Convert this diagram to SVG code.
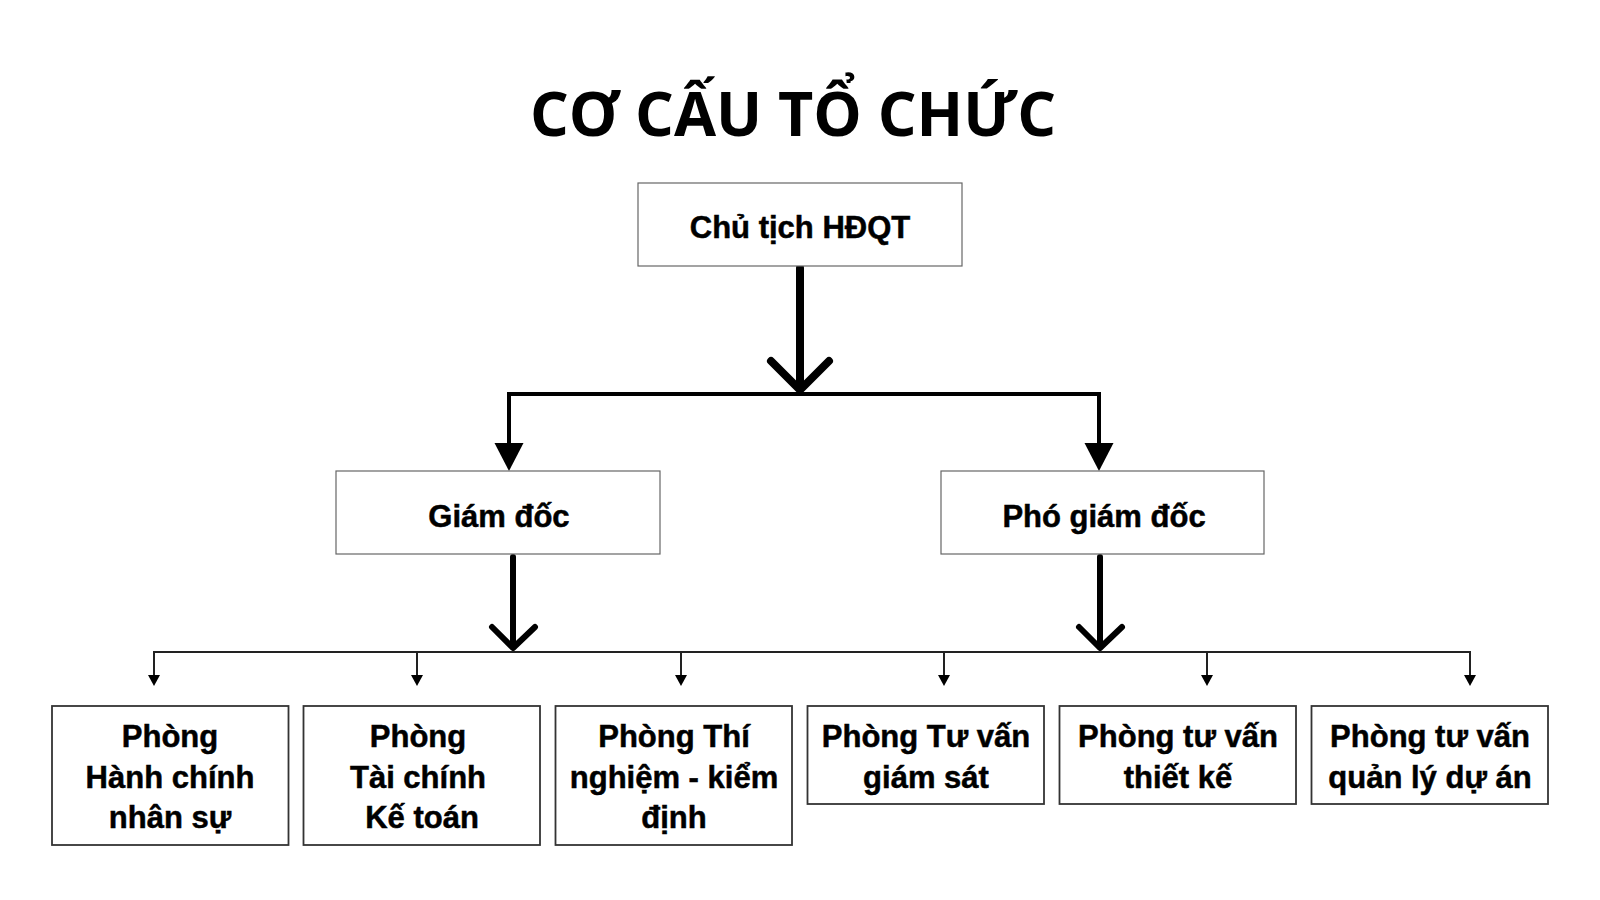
<svg xmlns="http://www.w3.org/2000/svg" width="1600" height="900" viewBox="0 0 1600 900">
  <style>
    .title { font-family: "Open Sans", "Liberation Sans", sans-serif; font-weight: 700; font-size: 61px; fill: #000; }
    .lbl { font-family: "Liberation Sans", Arial, sans-serif; font-weight: 700; font-size: 31px; fill: #000; stroke: #000; stroke-width: 0.5; text-anchor: middle; }
    .top { fill: #fff; stroke: #666; stroke-width: 1.2; }
    .dept { fill: #fff; stroke: #333; stroke-width: 1.8; }
    .big { fill: none; stroke: #000; stroke-width: 8; stroke-linecap: round; stroke-linejoin: round; }
    .mid { fill: none; stroke: #000; stroke-width: 6; stroke-linecap: round; stroke-linejoin: round; }
    .bar { fill: none; stroke: #000; stroke-width: 4; }
    .thin { fill: none; stroke: #222; stroke-width: 2; }
    .head { fill: #000; }
  </style>
  <rect width="1600" height="900" fill="#fff"/>
  <text class="title" x="793" y="136" text-anchor="middle">CƠ CẤU TỔ CHỨC</text>

  <g id="connectors">
    <!-- Chairman to directors -->
    <line class="big" x1="800" y1="268" x2="800" y2="388"/>
    <polyline class="big" points="771,361 800,390 829,361"/>
    <polyline class="bar" points="509,447 509,394 1099,394 1099,447"/>
    <polygon class="head" points="494.5,443 523.5,443 509,471"/>
    <polygon class="head" points="1084.5,443 1113.5,443 1099,471"/>
    <!-- Directors to departments -->
    <line class="mid" x1="513" y1="557" x2="513" y2="647"/>
    <polyline class="mid" points="492,627 513,648 535,627"/>
    <line class="mid" x1="1100" y1="557" x2="1100" y2="647"/>
    <polyline class="mid" points="1079,627 1100,648 1122,627"/>
    <polyline class="thin" points="154,677 154,652 1470,652 1470,677"/>
    <line class="thin" x1="417" y1="652" x2="417" y2="677"/>
    <line class="thin" x1="681" y1="652" x2="681" y2="677"/>
    <line class="thin" x1="944" y1="652" x2="944" y2="677"/>
    <line class="thin" x1="1207" y1="652" x2="1207" y2="677"/>
    <polygon class="head" points="148,675 160,675 154,686"/>
    <polygon class="head" points="411,675 423,675 417,686"/>
    <polygon class="head" points="675,675 687,675 681,686"/>
    <polygon class="head" points="938,675 950,675 944,686"/>
    <polygon class="head" points="1201,675 1213,675 1207,686"/>
    <polygon class="head" points="1464,675 1476,675 1470,686"/>
  </g>

  <g id="chairman">
    <rect class="top" x="638" y="183" width="324" height="83"/>
    <text class="lbl" x="800" y="238">Chủ tịch HĐQT</text>
  </g>
  <g id="director">
    <rect class="top" x="336" y="471" width="324" height="83"/>
    <text class="lbl" x="499" y="527">Giám đốc</text>
  </g>
  <g id="vice-director">
    <rect class="top" x="941" y="471" width="323" height="83"/>
    <text class="lbl" x="1104" y="527">Phó giám đốc</text>
  </g>

  <g id="dept-hr">
    <rect class="dept" x="52" y="706" width="236.5" height="139"/>
    <text class="lbl" x="170" y="747">Phòng</text>
    <text class="lbl" x="170" y="788">Hành chính</text>
    <text class="lbl" x="170" y="828">nhân sự</text>
  </g>
  <g id="dept-finance">
    <rect class="dept" x="303.5" y="706" width="236.5" height="139"/>
    <text class="lbl" x="418" y="747">Phòng</text>
    <text class="lbl" x="418" y="788">Tài chính</text>
    <text class="lbl" x="422" y="828">Kế toán</text>
  </g>
  <g id="dept-lab">
    <rect class="dept" x="555.5" y="706" width="236.5" height="139"/>
    <text class="lbl" x="674" y="747">Phòng Thí</text>
    <text class="lbl" x="674" y="788">nghiệm - kiểm</text>
    <text class="lbl" x="674" y="828">định</text>
  </g>
  <g id="dept-supervision">
    <rect class="dept" x="807.5" y="706" width="236.5" height="98"/>
    <text class="lbl" x="926" y="747">Phòng Tư vấn</text>
    <text class="lbl" x="926" y="788">giám sát</text>
  </g>
  <g id="dept-design">
    <rect class="dept" x="1059.5" y="706" width="236.5" height="98"/>
    <text class="lbl" x="1178" y="747">Phòng tư vấn</text>
    <text class="lbl" x="1178" y="788">thiết kế</text>
  </g>
  <g id="dept-pm">
    <rect class="dept" x="1311.5" y="706" width="236.5" height="98"/>
    <text class="lbl" x="1430" y="747">Phòng tư vấn</text>
    <text class="lbl" x="1430" y="788">quản lý dự án</text>
  </g>
</svg>
